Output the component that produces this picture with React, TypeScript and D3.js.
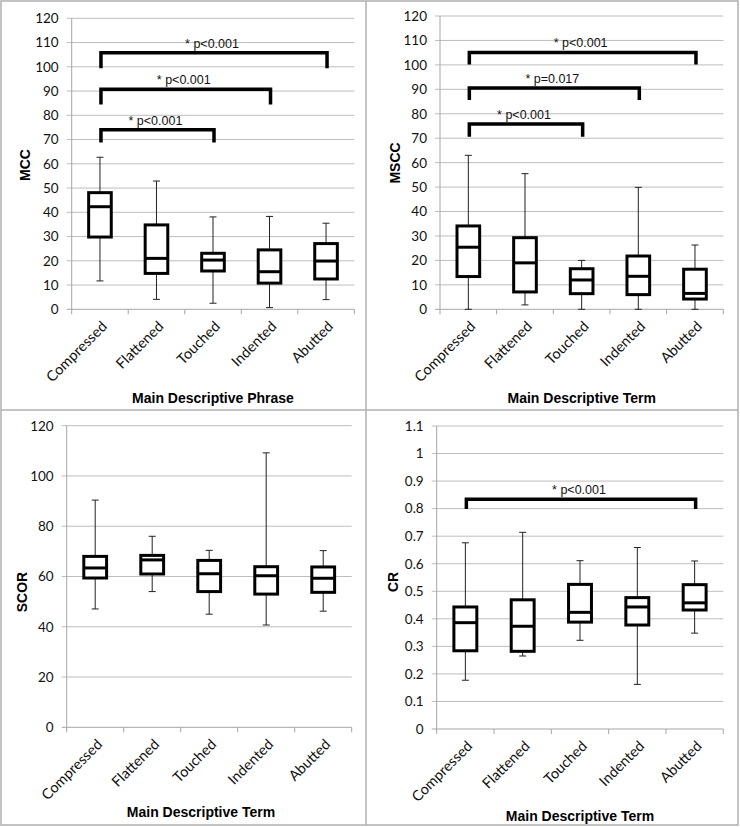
import React from "react";
import * as d3 from "d3";

// ---------- data ----------
const categories = ["Compressed", "Flattened", "Touched", "Indented", "Abutted"];

// each row: [min, q1, median, q3, max]
const mccBoxes: number[][] = [
  [11.7, 29.8, 42.3, 48.1, 62.7],
  [4.1, 14.8, 21, 34.8, 52.9],
  [2.5, 15.8, 20.3, 23.1, 38.1],
  [0.7, 10.8, 15.5, 24.5, 38.3],
  [4, 12.5, 19.9, 27.1, 35.5],
];
const msccBoxes: number[][] = [
  [0, 13.4, 25.4, 34.1, 63],
  [1.8, 7.1, 19, 29.3, 55.5],
  [0, 6.4, 12, 16.6, 20],
  [0, 6, 13.5, 21.8, 49.9],
  [0, 4.2, 6.5, 16.4, 26.3],
];
const scorBoxes: number[][] = [
  [47.1, 59.4, 63.4, 68, 90.4],
  [54, 61, 66.6, 68.4, 76],
  [45, 54, 61.1, 66.4, 70.4],
  [40.7, 53, 60.3, 63.9, 109.2],
  [46.2, 53.7, 59.3, 63.8, 70.3],
];
const crBoxes: number[][] = [
  [0.177, 0.284, 0.386, 0.443, 0.676],
  [0.265, 0.282, 0.373, 0.469, 0.714],
  [0.322, 0.388, 0.4235, 0.525, 0.611],
  [0.162, 0.3775, 0.443, 0.477, 0.659],
  [0.348, 0.432, 0.458, 0.524, 0.61],
];

const mccTicks = [0, 10, 20, 30, 40, 50, 60, 70, 80, 90, 100, 110, 120];
const msccTicks = [0, 10, 20, 30, 40, 50, 60, 70, 80, 90, 100, 110, 120];
const scorTicks = [0, 20, 40, 60, 80, 100, 120];
const crTicks = [0, 0.1, 0.2, 0.3, 0.4, 0.5, 0.6, 0.7, 0.8, 0.9, 1, 1.1];

type Bracket = { from: number; to: number; y: number; drop: number; label: string };
const mccBrackets: Bracket[] = [
  { from: 0, to: 4, y: 105.8, drop: 99.4, label: "* p<0.001" },
  { from: 0, to: 3, y: 90.7, drop: 84.5, label: "* p<0.001" },
  { from: 0, to: 2, y: 74, drop: 68.8, label: "* p<0.001" },
];
const msccBrackets: Bracket[] = [
  { from: 0, to: 4, y: 105.1, drop: 100.2, label: "* p<0.001" },
  { from: 0, to: 3, y: 90.5, drop: 85.6, label: "* p=0.017" },
  { from: 0, to: 2, y: 75.8, drop: 70.6, label: "* p<0.001" },
];
const scorBrackets: Bracket[] = [];
const crBrackets: Bracket[] = [
  { from: 0, to: 4, y: 0.834, drop: 0.799, label: "* p<0.001" },
];

// ---------- layout ----------
type PanelCfg = {
  boxes: number[][];
  ticks: number[];
  brackets: Bracket[];
  yTitle: string;
  xTitle: string;
  left: number;
  right: number;
  top: number;
  bottom: number;
  yTitleX: number;
  yTitleY: number;
  xTitleX: number;
  xTitleY: number;
};

const panels: PanelCfg[] = [
  {
    boxes: mccBoxes, ticks: mccTicks, brackets: mccBrackets,
    yTitle: "MCC", xTitle: "Main Descriptive Phrase",
    left: 71.7, right: 354.3, top: 18.3, bottom: 309.3,
    yTitleX: 25, yTitleY: 165, xTitleX: 213, xTitleY: 403,
  },
  {
    boxes: msccBoxes, ticks: msccTicks, brackets: msccBrackets,
    yTitle: "MSCC", xTitle: "Main Descriptive Term",
    left: 440, right: 723.3, top: 16, bottom: 309.3,
    yTitleX: 395, yTitleY: 163, xTitleX: 581.7, xTitleY: 403,
  },
  {
    boxes: scorBoxes, ticks: scorTicks, brackets: scorBrackets,
    yTitle: "SCOR", xTitle: "Main Descriptive Term",
    left: 66.7, right: 351.7, top: 425.7, bottom: 727.3,
    yTitleX: 22, yTitleY: 592, xTitleX: 201, xTitleY: 817,
  },
  {
    boxes: crBoxes, ticks: crTicks, brackets: crBrackets,
    yTitle: "CR", xTitle: "Main Descriptive Term",
    left: 436.7, right: 723.3, top: 426, bottom: 729,
    yTitleX: 393.5, yTitleY: 582, xTitleX: 580, xTitleY: 821,
  },
];

const tickFont = "Lato, 'Open Sans', sans-serif";
const arialFont = "'Liberation Sans', Arial, sans-serif";

function Panel({ cfg }: { cfg: PanelCfg }) {
  const x = d3.scaleBand<string>().domain(categories).range([cfg.left, cfg.right]).padding(0);
  const maxTick = cfg.ticks[cfg.ticks.length - 1];
  const y = d3.scaleLinear().domain([0, maxTick]).range([cfg.bottom, cfg.top]);
  const bw = x.bandwidth();
  const boxW = bw * 0.4;
  const capW = 7;
  const cx = (i: number) => (x(categories[i]) as number) + bw / 2;
  const fmt = (v: number) => String(Math.round(v * 1000) / 1000);
  const boundaries = [...categories.map((c) => x(c) as number), cfg.right];

  return (
    <g>
      {cfg.ticks.map((t) => (
        <line key={"g" + t} x1={cfg.left - 5} x2={cfg.right} y1={y(t)} y2={y(t)}
          stroke={t === 0 ? "#a6a6a6" : "#bdbdbd"} strokeWidth={1} />
      ))}
      <line x1={cfg.left} x2={cfg.left} y1={cfg.top} y2={cfg.bottom} stroke="#a6a6a6" strokeWidth={1} />
      {boundaries.map((b, i) => (
        <line key={"xt" + i} x1={b} x2={b} y1={cfg.bottom} y2={cfg.bottom + 5} stroke="#a6a6a6" strokeWidth={1} />
      ))}
      {cfg.ticks.map((t) => (
        <text key={"yl" + t} x={cfg.left - 13} y={y(t)} dy="0.36em" textAnchor="end"
          fontFamily={tickFont} fontSize={13.5} fill="#111">{fmt(t)}</text>
      ))}
      {categories.map((c, i) => (
        <text key={"xl" + c} transform={`translate(${cx(i) + 8},${cfg.bottom + 18}) rotate(-45)`}
          textAnchor="end" fontFamily={tickFont} fontSize={14.5} fill="#111">{c}</text>
      ))}
      {cfg.boxes.map((b, i) => {
        const [mn, q1, md, q3, mx] = b;
        const c = cx(i);
        return (
          <g key={"b" + i}>
            <line x1={c} x2={c} y1={y(mx)} y2={y(q3)} stroke="#222" strokeWidth={1} />
            <line x1={c} x2={c} y1={y(q1)} y2={y(mn)} stroke="#222" strokeWidth={1} />
            <line x1={c - capW / 2} x2={c + capW / 2} y1={y(mx)} y2={y(mx)} stroke="#222" strokeWidth={1} />
            <line x1={c - capW / 2} x2={c + capW / 2} y1={y(mn)} y2={y(mn)} stroke="#222" strokeWidth={1} />
            <rect x={c - boxW / 2} y={y(q3)} width={boxW} height={y(q1) - y(q3)}
              fill="white" stroke="#000" strokeWidth={3} />
            <line x1={c - boxW / 2} x2={c + boxW / 2} y1={y(md)} y2={y(md)} stroke="#000" strokeWidth={3} />
          </g>
        );
      })}
      {cfg.brackets.map((br, i) => {
        const xa = cx(br.from) + 1;
        const xb = cx(br.to) + 1;
        const yh = y(br.y);
        const yd = y(br.drop);
        return (
          <g key={"br" + i}>
            <path d={`M${xa},${yd} L${xa},${yh} L${xb},${yh} L${xb},${yd}`} fill="none"
              stroke="#000" strokeWidth={3.5} strokeLinejoin="miter" />
            <text x={(xa + xb) / 2 - 2} y={yh - 5} textAnchor="middle" fontFamily={arialFont}
              fontSize={12.5} fill="#111">{br.label}</text>
          </g>
        );
      })}
      <text transform={`translate(${cfg.yTitleX},${cfg.yTitleY}) rotate(-90)`} textAnchor="middle"
        dy="0.35em" fontFamily={arialFont} fontWeight="bold" fontSize={14} fill="#000">{cfg.yTitle}</text>
      <text x={cfg.xTitleX} y={cfg.xTitleY} textAnchor="middle" fontFamily={arialFont}
        fontWeight="bold" fontSize={14} fill="#000">{cfg.xTitle}</text>
    </g>
  );
}

export default function App() {
  return (
    <svg width={740} height={827} style={{ position: "absolute", left: 0, top: 0, display: "block", background: "white" }}>
      <rect x={0} y={0} width={740} height={827} fill="white" />
      {panels.map((p, i) => (
        <Panel key={i} cfg={p} />
      ))}
      <rect x={1} y={1} width={737} height={824} fill="none" stroke="#b0b0b0" strokeWidth={1.5} />
      <line x1={366} x2={366} y1={1} y2={825} stroke="#b0b0b0" strokeWidth={1.5} />
      <line x1={1} x2={738} y1={410} y2={410} stroke="#b0b0b0" strokeWidth={1.5} />
    </svg>
  );
}
